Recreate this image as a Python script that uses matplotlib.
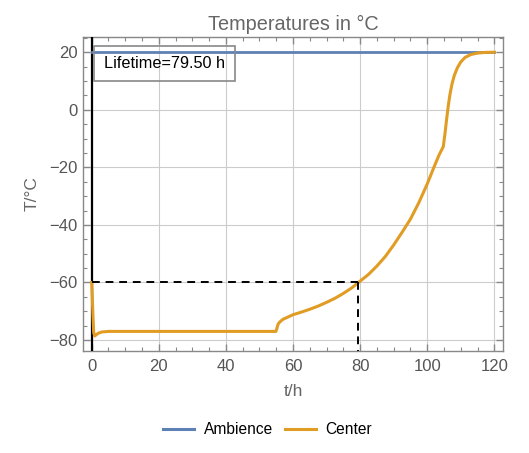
import matplotlib
matplotlib.use("Agg")
import matplotlib.pyplot as plt
from matplotlib.lines import Line2D
from matplotlib.ticker import MultipleLocator

plt.rcParams['font.family'] = ['Liberation Sans', 'DejaVu Sans']

# Data
amb_t = [0, 120]
amb_T = [20, 20]

center_t = [0, 0.15, 0.35, 0.6, 0.9, 1.3, 2, 3, 5, 20, 40, 54.9, 55.15, 55.4, 55.7,
            56.2, 57, 60, 62.5, 65, 67.5, 70, 72.5, 75, 77.5, 79.5, 82.5, 85, 87.5,
            90, 92.5, 95, 97.5, 100, 102, 103.5, 104.8, 105.3, 105.8, 106.3, 106.8,
            107.4, 108.1, 109, 110, 111.3, 113, 115, 117.5, 120]
center_T = [-60, -64, -71, -77.5, -78.6, -78.2, -77.6, -77.2, -77, -77, -77, -77,
            -76.2, -75.0, -74.2, -73.6, -72.8, -71.2, -70.3, -69.3, -68.2, -66.9,
            -65.5, -63.8, -61.9, -60, -57.2, -54.3, -51.0, -47.0, -42.6, -38.0,
            -32.3, -25.8, -20, -15.8, -12.8, -8.3, -3.2, 1.5, 5.4, 9.0, 12.0, 14.6,
            16.6, 18.2, 19.2, 19.7, 19.95, 20]

lifetime = 79.5
threshold = -60

blue = '#5E81B5'
orange = '#E19C24'
gray = '#666666'

fig = plt.figure(figsize=(5.29, 4.53), dpi=100)
ax = fig.add_axes([0.1575, 0.2252, 0.794, 0.6932])

XMIN, XMAX = -2.5, 122.7
YMIN, YMAX = -83.8, 25.3
ax.set_xlim(XMIN, XMAX)
ax.set_ylim(YMIN, YMAX)

ax.grid(True, color='#cccccc', lw=0.8)
ax.set_axisbelow(True)

ax.axvline(0, color='black', lw=1.6, zorder=3)
ax.plot(amb_t, amb_T, color=blue, lw=2.0, zorder=4, label='Ambience')
ax.plot(center_t, center_T, color=orange, lw=2.2, zorder=4, label='Center',
        solid_joinstyle='round')
ax.plot([0, lifetime], [threshold, threshold], color='black', lw=1.4,
        dashes=(4, 3), zorder=5)
ax.plot([lifetime, lifetime], [threshold, YMIN], color='black', lw=1.4,
        dashes=(4, 3), zorder=5)

ax.text(21.7, 16.0, 'Lifetime=79.50 h', ha='center', va='center', fontsize=11.7,
        color='black', zorder=6,
        bbox=dict(boxstyle='square,pad=0.62', fc='none', ec='#888888', lw=1.2))

ax.xaxis.set_major_locator(MultipleLocator(20))
ax.xaxis.set_minor_locator(MultipleLocator(5))
ax.yaxis.set_major_locator(MultipleLocator(20))
ax.yaxis.set_minor_locator(MultipleLocator(5))
ax.tick_params(which='both', direction='in', top=True, right=True,
               color='#888888', labelcolor='#555555', labelsize=12)
ax.tick_params(which='major', length=5, width=1)
ax.tick_params(which='minor', length=3, width=0.8)
ax.tick_params(axis='x', which='major', pad=6)
ax.tick_params(axis='y', which='major', pad=4)
ax.set_yticks([-80, -60, -40, -20, 0, 20])
ax.set_yticklabels(['\u221280', '\u221260', '\u221240', '\u221220', '0', '20'])
for s in ax.spines.values():
    s.set_color('#888888')
    s.set_linewidth(1.0)

ax.set_title('Temperatures in \u00b0C', color=gray, fontsize=14.3, pad=5)
ax.set_xlabel('t/h', color=gray, fontsize=12.5, labelpad=7)
ax.set_ylabel('T/\u00b0C', color=gray, fontsize=12.5, labelpad=7)

handles = [Line2D([0], [0], color=blue, lw=2.2), Line2D([0], [0], color=orange, lw=2.2)]
fig.legend(handles, ['Ambience', 'Center'], loc='center', bbox_to_anchor=(0.506, 0.051),
           ncol=2, frameon=False, fontsize=11.2, handlelength=2.0, columnspacing=0.8,
           handletextpad=0.6)

fig.savefig('out.png', dpi=100)
